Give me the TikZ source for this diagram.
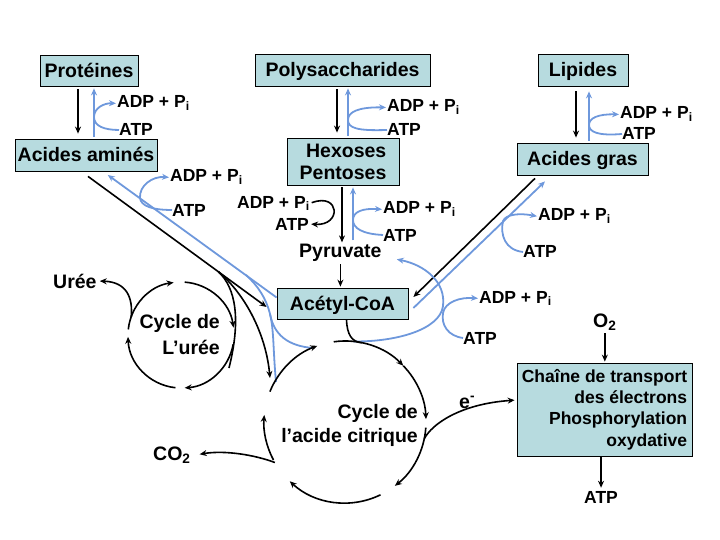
\documentclass[tikz,border=0pt]{standalone}
\usepackage{fontspec}
\setmainfont{Liberation Sans}
\usetikzlibrary{arrows.meta,calc}
\definecolor{boxfill}{RGB}{183,219,223}
\definecolor{bl}{RGB}{110,152,220}
\newcommand{\ADPi}{ADP + P\textsubscript{i}}
\tikzset{
 blk/.style={draw=black,line width=1.6pt,-{Stealth[length=7pt,width=6pt]}},
 blkn/.style={draw=black,line width=1.6pt},
 blu/.style={draw=bl,line width=1.8pt,-{Stealth[length=7pt,width=6pt]}},
 blun/.style={draw=bl,line width=1.8pt},
 box/.style={draw=black,line width=0.8pt,fill=boxfill,inner sep=0pt,font=\bfseries\fontsize{19.5}{22}\selectfont},
 onebox/.style={box,text height=14pt,text depth=0pt},
 lbl/.style={inner sep=0pt,font=\bfseries\fontsize{17.5}{20}\selectfont},
 big/.style={inner sep=0pt,font=\bfseries\fontsize{19.5}{24}\selectfont},
}
\begin{document}
\begin{tikzpicture}[x=1pt,y=-1pt]
\useasboundingbox (0,0) rectangle (720,540);
% ---------- boxes ----------
\node[onebox,minimum width=98pt,minimum height=31pt] (prot) at (89,70.5) {Protéines};
\node[onebox,minimum width=175pt,minimum height=32pt] (poly) at (342.5,70) {Polysaccharides};
\node[onebox,minimum width=90pt,minimum height=32pt] (lip) at (583,70) {Lipides};
\node[onebox,minimum width=142pt,minimum height=32pt] (aa) at (86,155) {Acides aminés};
\node[box,minimum width=112pt,minimum height=47pt,align=right] (hex) at (343,161.5) {Hexoses\\Pentoses};
\node[onebox,minimum width=131pt,minimum height=32pt] (ag) at (582.5,159) {Acides gras};
\node[onebox,minimum width=131pt,minimum height=31pt] (acoa) at (342.5,303.5) {Acétyl-CoA};
\node[box,minimum width=175pt,minimum height=93pt,align=right,font=\bfseries\fontsize{17.5}{21.3}\selectfont] (chain) at (604.5,409.5) {Chaîne de transport\\des électrons\\Phosphorylation\\oxydative};
% ---------- labels ----------
\node[lbl,anchor=base west] (adp1) at (117,108) {\ADPi};
\node[lbl,anchor=base west] (atp1) at (119,136) {ATP};
\node[lbl,anchor=base west] (adp2) at (387,112) {\ADPi};
\node[lbl,anchor=base west] (atp2) at (387,136) {ATP};
\node[lbl,anchor=base west] (adp3) at (620,119) {\ADPi};
\node[lbl,anchor=base west] (atp3) at (622,140) {ATP};
\node[lbl,anchor=base west] (adp4) at (170,182) {\ADPi};
\node[lbl,anchor=base west] (atp4) at (172,216) {ATP};
\node[lbl,anchor=base west] (adp5) at (237,208) {\ADPi};
\node[lbl,anchor=base west] (atp5) at (275,230) {ATP};
\node[lbl,anchor=base west] (adp6) at (383,214) {\ADPi};
\node[lbl,anchor=base west] (atp6) at (383,241) {ATP};
\node[lbl,anchor=base west] (adp7) at (538,221) {\ADPi};
\node[lbl,anchor=base west] (atp7) at (523,258) {ATP};
\node[lbl,anchor=base west] (adp8) at (479,303) {\ADPi};
\node[lbl,anchor=base west] (atp8) at (463,344) {ATP};
\node[big,anchor=base west] (pyr) at (299,257) {Pyruvate};
\node[big,anchor=base west] (uree) at (53,288) {Urée};
\node[big,anchor=base west] (o2) at (593,327) {O\textsubscript{2}};
\node[big,anchor=base west] (co2) at (153,460) {CO\textsubscript{2}};
\node[big,anchor=base west] (em) at (459,408) {e\textsuperscript{-}};
\node[lbl,anchor=base west] (atpb) at (584,503) {ATP};
\node[big,anchor=east,align=right,font=\bfseries\fontsize{19.5}{26}\selectfont] (ucyc) at (220,335) {Cycle de\\L’urée};
\node[big,anchor=east,align=right,font=\bfseries\fontsize{19.5}{24}\selectfont] (ccyc) at (418,425) {Cycle de\\l’acide citrique};
\coordinate (cc) at (345,422);
\coordinate (uc) at (181,335);
% ---------- vertical pairs ----------
\draw[blk,shorten <=3pt,shorten >=5pt] ([xshift=-11pt]prot.south) -- ([xshift=-8pt]aa.north);
\draw[blu,shorten <=2pt,shorten >=2pt] ([xshift=8pt]aa.north) -- ([xshift=5pt]prot.south);
\draw[blu,shorten >=1pt] (atp1.west) .. controls (104,130) and (94,126) .. (94,117) .. controls (94,108) and (104,103) .. (adp1.west);

\draw[blk,shorten <=3pt,shorten >=5pt] ([xshift=-5.5pt]poly.south) -- ([xshift=-6pt]hex.north);
\draw[blu,shorten <=2pt,shorten >=2pt] ([xshift=5pt]hex.north) -- ([xshift=5.5pt]poly.south);
\draw[blu,shorten >=1pt] (atp2.west) .. controls (357,131) and (348,128) .. (348,120) .. controls (348,112) and (358,107) .. (adp2.west);

\draw[blk,shorten <=5pt,shorten >=5pt] ([xshift=-7pt]lip.south) -- ([xshift=-6.5pt]ag.north);
\draw[blu,shorten <=2pt,shorten >=5pt] ([xshift=6.5pt]ag.north) -- ([xshift=6pt]lip.south);
\draw[blu,shorten >=1pt] (atp3.west) .. controls (598,136) and (589,132) .. (589,125) .. controls (589,118) and (598,114) .. (adp3.west);

\coordinate (hp1) at ([xshift=-1pt]hex.south);
\coordinate (hp2) at ([xshift=10pt]hex.south);
\draw[blk,shorten <=2pt,shorten >=1pt] (hp1) -- (hp1 |- pyr.north);
\draw[blu,shorten <=3pt,shorten >=2pt] (hp2 |- pyr.north) -- (hp2);
\draw[blu,shorten >=1pt] (atp6.west) .. controls (362,234) and (353,228) .. (353,220) .. controls (353,212) and (362,208) .. (adp6.west);
\draw[blk,shorten <=2pt,shorten >=2pt] (adp5.east) .. controls (340,192) and (342,226) .. (atp5.east);
\draw[blk,shorten <=3pt,shorten >=1pt] (pyr.south) -- (pyr.south |- acoa.north);
% ---------- amino acids ----------
\coordinate (aaS) at ([xshift=2pt,yshift=-5pt]aa.south);
\coordinate (acW) at ([xshift=-10pt,yshift=-3.5pt]acoa.west);
\coordinate (br) at ($(aaS)!0.73!(acW)$);
\draw[blk] (aaS) -- (acW);
\draw[blkn] (br) .. controls (236,288) and (241,320) .. (229,368);
\draw[blk] (br) .. controls (246,295) and (266,335) .. (270,378);
\draw[blu,shorten >=1pt] ([yshift=6pt]acoa.west) -- ([xshift=21pt,yshift=-3pt]aa.south);
\draw[blu,shorten >=1pt] (atp4.west) .. controls (152,210) and (141,206) .. (140,198) .. controls (139,186) and (152,176) .. (adp4.west);
\coordinate (bb1) at (276,382);
\coordinate (bb2) at (270,314);
\coordinate (bb3) at (246,275);
\coordinate (bb4) at (313,348);
\draw[blun] (bb1) .. controls (273,350) and (274,330) .. (bb2) .. controls (266,298) and (258,286) .. (bb3);
\draw[blun] (bb2) .. controls (274,335) and (288,346) .. (bb4);
% ---------- fatty acids ----------
\draw[blk] ([xshift=-47.5pt,yshift=-3pt]ag.south) -- ([xshift=5pt,yshift=6.5pt]acoa.east);
\draw[blu] ([xshift=5pt,yshift=-4.5pt]acoa.east) -- ([xshift=-37.5pt,yshift=-6pt]ag.south);
\draw[blu,shorten >=1pt] (atp7.west) .. controls (505,250) and (500,235) .. (503,221) .. controls (506,214) and (520,213) .. (adp7.west);
% ---------- citric to pyruvate ----------
\draw[blu] ($(cc)+(276:81)$) .. controls (395,342) and (440,330) .. (443,306) .. controls (446,282) and (425,265) .. ([xshift=15pt,yshift=-7pt]pyr.east);
\draw[blu,shorten >=1pt] (atp8.west) .. controls (448,336) and (441,325) .. (443,313) .. controls (445,302) and (460,297) .. (adp8.west);
\draw[blkn] ([xshift=4pt]acoa.south) .. controls (347,335) and (352,342) .. ($(cc)+(282:81)$);
% ---------- citric acid cycle ----------
\draw[blk] ($(cc)+(202:81)$) arc[start angle=202,end angle=250,radius=81];
\draw[blk] ($(cc)+(262:81)$) arc[start angle=262,end angle=316,radius=81];
\draw[blk] ($(cc)+(316:81)$) arc[start angle=316,end angle=358,radius=81];
\draw[blk] ($(cc)+(4:81)$) arc[start angle=4,end angle=52,radius=81];
\draw[blk] ($(cc)+(64:81)$) arc[start angle=64,end angle=133,radius=81];
\draw[blk] ($(cc)+(152:81)$) arc[start angle=152,end angle=185,radius=81];
\draw[blk,shorten >=2pt] ($(cc)+(12:81)$) .. controls (432,424) and (460,404) .. ([yshift=9.5pt]chain.west);
\draw[blk,shorten >=3pt] ($(cc)+(150:81)$) .. controls (255,455) and (225,450) .. ([xshift=6pt]co2.east);
% ---------- urea cycle ----------
\draw[blk] ($(uc)+(186:53)$) arc[start angle=186,end angle=262,radius=53];
\draw[blk] ($(uc)+(274:53)$) arc[start angle=274,end angle=352,radius=53];
\draw[blk] ($(uc)+(10:53)$) arc[start angle=10,end angle=86,radius=53];
\draw[blk] ($(uc)+(96:53)$) arc[start angle=96,end angle=178,radius=53];
\draw[blk,shorten >=3pt] ($(uc)+(200:53)$) .. controls (133,298) and (127,282) .. (uree.east);
% ---------- respiratory chain ----------
\draw[blk,shorten <=3pt,shorten >=1pt] (o2.south) -- (o2.south |- chain.north);
\draw[blk,shorten <=1pt,shorten >=3pt] (atpb.north |- chain.south) -- (atpb.north);
\end{tikzpicture}
\end{document}
